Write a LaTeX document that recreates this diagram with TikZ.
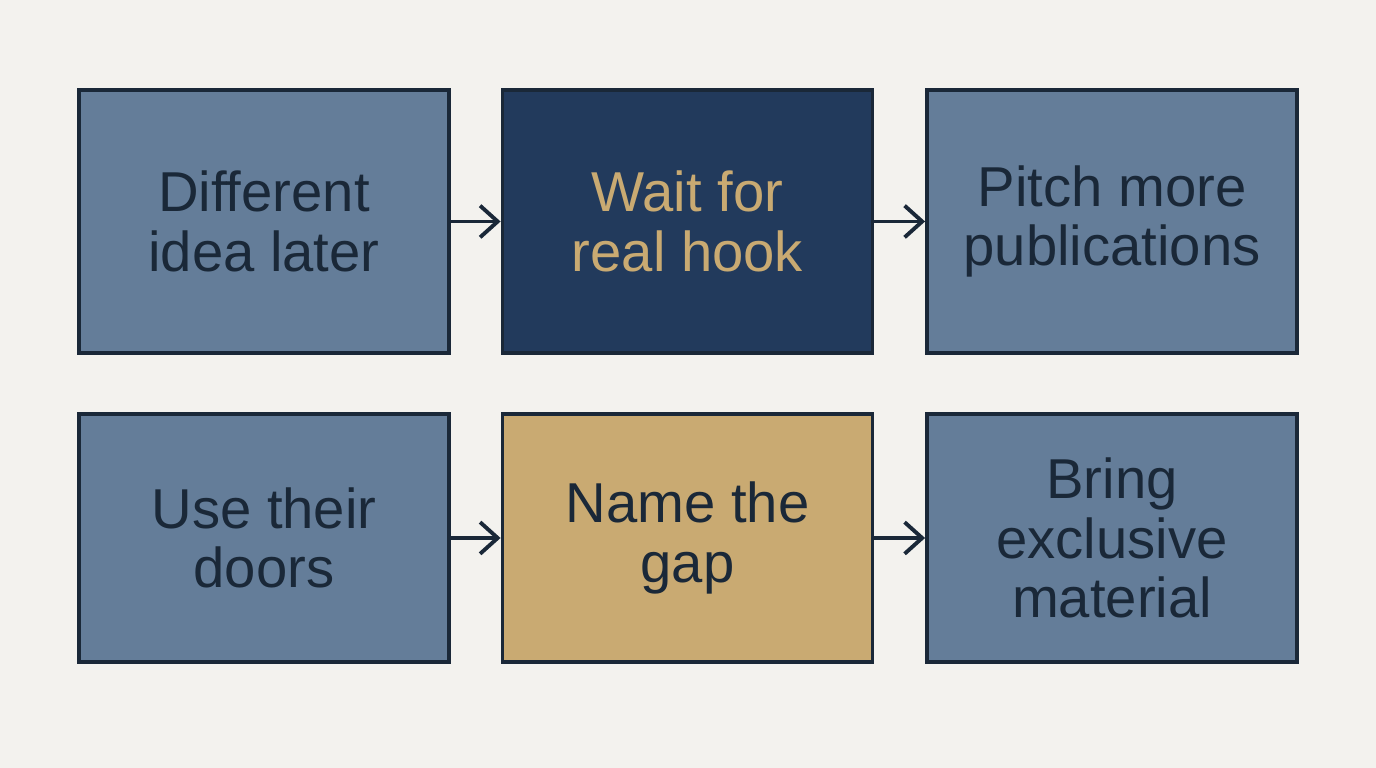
\documentclass[tikz,border=0pt]{standalone}
\usepackage{fontspec}
\setmainfont{Liberation Sans}
\usetikzlibrary{arrows.meta,positioning}
\definecolor{slate}{HTML}{647D99}
\definecolor{navy}{HTML}{223A5C}
\definecolor{sand}{HTML}{C9AA72}
\definecolor{edge}{HTML}{1A2838}
\definecolor{paper}{HTML}{F3F2EE}
\begin{document}
\begin{tikzpicture}[
  box/.style={rectangle, draw=edge, line width=1.1pt, minimum width=3.7cm,
    minimum height=2.63cm, align=center, text=edge,
    font=\fontsize{16}{17}\selectfont, fill=slate},
  low/.style={minimum height=2.48cm},
  >={Straight Barb[length=5pt,width=9pt]}
]
  \fill[paper] (0,0) rectangle (13.76,7.68);
  % top row
  \node[box] (diff) at (2.64,5.465) {Different\\idea later};
  \node[box, fill=navy, text=sand] (wait) at (6.875,5.465) {Wait for\\real hook};
  \node[box] (pitch) at (11.12,5.465) {Pitch more\\publications};
  % bottom row
  \node[box, low] (use) at (2.64,2.30) {Use their\\doors};
  \node[box, low, fill=sand] (name) at (6.875,2.30) {Name the\\gap};
  \node[box, low] (bring) at (11.12,2.30) {Bring\\exclusive\\material};

  \draw[->, line width=1.1pt, edge] (diff) -- (wait);
  \draw[->, line width=1.1pt, edge] (wait) -- (pitch);
  \draw[->, line width=1.1pt, edge] (use) -- (name);
  \draw[->, line width=1.1pt, edge] (name) -- (bring);
\end{tikzpicture}
\end{document}
